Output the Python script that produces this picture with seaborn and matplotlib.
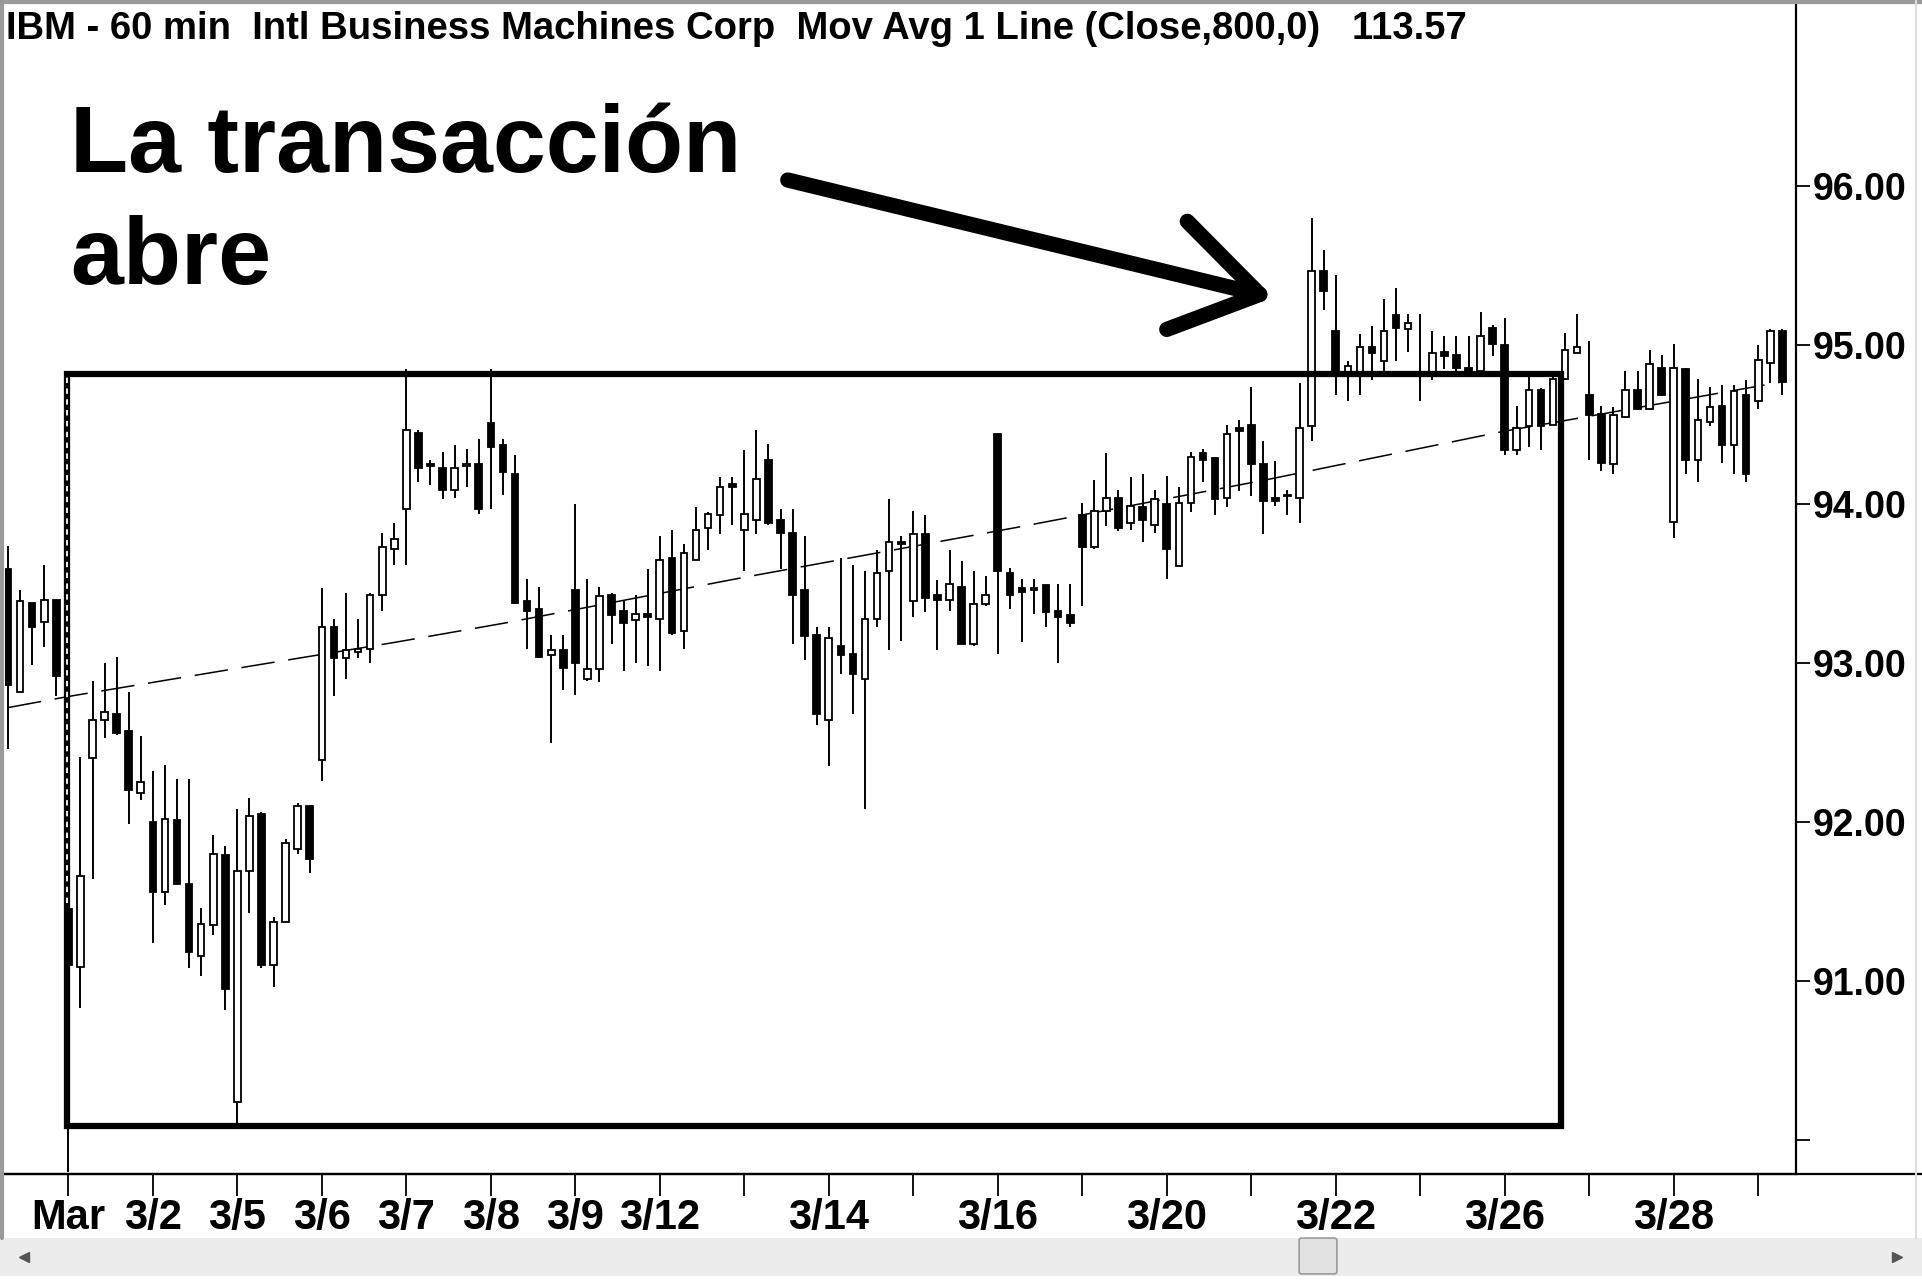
import numpy as np
import pandas as pd
import matplotlib
matplotlib.use("Agg")
import matplotlib.pyplot as plt
import seaborn as sns
from matplotlib.patches import Rectangle, FancyBboxPatch
from matplotlib.lines import Line2D

# 60 min bars: last 5 bars of Feb 29, then 7 bars a day, 3 bars of 3/29
opens = [93.59, 92.82, 93.38, 93.26, 93.40,
         91.45, 91.09, 92.40, 92.64, 92.68, 92.57, 92.18,
         92.00, 91.56, 92.01, 91.61, 91.16, 91.35, 91.79,
         90.24, 91.69, 92.05, 91.10, 91.37, 91.83, 92.10,
         92.39, 93.23, 93.03, 93.07, 93.09, 93.43, 93.72,
         93.97, 94.45, 94.25, 94.23, 94.09, 94.24, 94.25,
         94.51, 94.37, 94.19, 93.39, 93.34, 93.05, 93.08,
         93.46, 92.90, 92.96, 93.43, 93.33, 93.27, 93.31,
         93.28, 93.66, 93.20, 93.65, 93.85, 93.93, 94.13,
         93.84, 93.90, 94.28, 93.90, 93.82, 93.46, 93.18,
         92.64, 93.11, 93.06, 92.90, 93.28, 93.58, 93.76,
         93.39, 93.81, 93.43, 93.40, 93.48, 93.12, 93.37,
         94.44, 93.57, 93.47, 93.46, 93.49, 93.33, 93.30,
         93.93, 93.73, 93.96, 94.04, 93.88, 93.98, 93.87,
         94.00, 93.61, 94.01, 94.32, 94.29, 94.04, 94.48,
         94.50, 94.25, 94.04, 94.06, 94.04, 94.49, 95.47,
         95.09, 94.81, 94.82, 94.99, 94.90, 95.19, 95.10,
         94.83, 94.81, 94.96, 94.94, 94.86, 94.84, 95.11,
         95.00, 94.34, 94.49, 94.72, 94.50, 94.79, 94.95,
         94.69, 94.57, 94.25, 94.55, 94.72, 94.60, 94.86,
         93.89, 94.85, 94.28, 94.52, 94.62, 94.37, 94.69,
         94.65, 94.89, 95.09]
highs = [93.74, 93.46, 93.38, 93.62, 93.40,
         92.80, 92.41, 92.89, 93.00, 93.04, 92.82, 92.54,
         92.32, 92.36, 92.27, 92.27, 91.46, 91.92, 91.85,
         92.08, 92.15, 92.06, 91.40, 91.89, 92.12, 92.10,
         93.47, 93.28, 93.44, 93.28, 93.44, 93.82, 93.88,
         94.85, 94.47, 94.28, 94.33, 94.37, 94.35, 94.41,
         94.85, 94.41, 94.31, 93.53, 93.48, 93.18, 93.18,
         94.00, 93.53, 93.48, 93.44, 93.39, 93.43, 93.59,
         93.80, 93.84, 93.75, 93.98, 93.95, 94.17, 94.17,
         94.34, 94.47, 94.38, 93.97, 93.97, 93.80, 93.23,
         93.23, 93.66, 93.62, 93.58, 93.71, 94.03, 93.80,
         93.96, 93.93, 93.52, 93.71, 93.64, 93.58, 93.55,
         94.44, 93.60, 93.53, 93.53, 93.49, 93.50, 93.50,
         94.01, 94.15, 94.32, 94.09, 94.17, 94.19, 94.09,
         94.18, 94.11, 94.33, 94.35, 94.30, 94.50, 94.53,
         94.74, 94.40, 94.27, 94.09, 94.76, 95.80, 95.60,
         95.44, 94.90, 95.07, 95.12, 95.29, 95.36, 95.20,
         95.20, 95.09, 95.06, 95.06, 95.06, 95.21, 95.13,
         95.17, 94.62, 94.81, 94.73, 94.80, 95.08, 95.20,
         95.03, 94.62, 94.61, 94.84, 94.84, 94.97, 94.94,
         95.01, 94.86, 94.79, 94.74, 94.75, 94.75, 94.78,
         95.00, 95.10, 95.10]
lows = [92.46, 92.82, 92.99, 93.10, 92.79,
        89.80, 90.83, 91.64, 92.53, 92.55, 91.99, 92.14,
        91.24, 91.48, 91.61, 91.08, 91.03, 91.29, 90.82,
        90.10, 91.43, 91.08, 90.96, 91.37, 91.80, 91.68,
        92.26, 92.79, 92.90, 93.03, 93.00, 93.33, 93.62,
        93.62, 94.14, 94.12, 94.03, 94.04, 94.11, 93.94,
        93.97, 94.06, 93.37, 93.09, 93.03, 92.50, 92.83,
        92.80, 92.89, 92.88, 93.12, 92.95, 93.00, 92.98,
        92.95, 93.18, 93.09, 93.65, 93.71, 93.81, 93.87,
        93.58, 93.81, 93.87, 93.59, 93.12, 93.02, 92.61,
        92.35, 92.93, 92.68, 92.08, 93.23, 93.08, 93.14,
        93.29, 93.32, 93.08, 93.33, 93.12, 93.11, 93.36,
        93.06, 93.34, 93.13, 93.31, 93.23, 93.00, 93.23,
        93.36, 93.72, 93.86, 93.83, 93.84, 93.76, 93.82,
        93.53, 93.61, 93.95, 94.14, 93.93, 93.98, 94.08,
        94.05, 93.81, 93.99, 93.93, 93.88, 94.40, 95.22,
        94.69, 94.65, 94.69, 94.78, 94.83, 94.90, 94.96,
        94.65, 94.78, 94.85, 94.82, 94.81, 94.83, 94.93,
        94.31, 94.31, 94.36, 94.34, 94.50, 94.78, 94.95,
        94.28, 94.21, 94.19, 94.54, 94.59, 94.59, 94.68,
        93.79, 94.19, 94.14, 94.49, 94.26, 94.19, 94.14,
        94.60, 94.76, 94.69]
closes = [92.86, 93.39, 93.23, 93.40, 92.92,
          91.10, 91.66, 92.64, 92.69, 92.56, 92.20, 92.25,
          91.56, 92.02, 91.61, 91.18, 91.36, 91.80, 90.95,
          91.69, 92.04, 91.10, 91.37, 91.87, 92.10, 91.77,
          93.23, 93.03, 93.08, 93.09, 93.43, 93.73, 93.78,
          94.47, 94.23, 94.24, 94.09, 94.23, 94.25, 93.97,
          94.36, 94.20, 93.38, 93.33, 93.04, 93.08, 92.97,
          93.00, 92.96, 93.42, 93.30, 93.25, 93.31, 93.29,
          93.65, 93.19, 93.69, 93.84, 93.94, 94.11, 94.11,
          93.94, 94.16, 93.88, 93.82, 93.43, 93.17, 92.68,
          93.16, 93.05, 92.93, 93.28, 93.57, 93.76, 93.75,
          93.81, 93.41, 93.40, 93.50, 93.12, 93.37, 93.43,
          93.58, 93.43, 93.45, 93.47, 93.32, 93.29, 93.25,
          93.73, 93.96, 94.04, 93.85, 93.99, 93.90, 94.03,
          93.72, 94.01, 94.30, 94.28, 94.03, 94.44, 94.46,
          94.25, 94.02, 94.02, 94.05, 94.48, 95.47, 95.34,
          94.82, 94.87, 94.99, 94.95, 95.09, 95.11, 95.14,
          94.82, 94.95, 94.93, 94.86, 94.82, 95.06, 95.01,
          94.34, 94.48, 94.72, 94.49, 94.79, 94.97, 94.99,
          94.56, 94.26, 94.56, 94.72, 94.60, 94.88, 94.69,
          94.86, 94.28, 94.53, 94.61, 94.37, 94.71, 94.19,
          94.91, 95.09, 94.77]

# date labels under the first bar of each day (blank = unlabeled tick)
day_labels = ["Mar", "3/2", "3/5", "3/6", "3/7", "3/8", "3/9", "3/12", "", "3/14", "",
              "3/16", "", "3/20", "", "3/22", "", "3/26", "", "3/28", ""]

# 800-bar moving average, read at a few bars
ma_bar = [0, 5, 20, 32, 41, 61, 84, 104, 124, 130, 147]
ma_value = [92.72, 92.79, 92.98, 93.13, 93.25, 93.54, 93.86, 94.15, 94.46, 94.54, 94.77]

price_ticks = [90, 91, 92, 93, 94, 95, 96]
price_labels = ["", "91.00", "92.00", "93.00", "94.00", "95.00", "96.00"]

# hand drawn range box and arrow (bar index, price)
box_left, box_right = 4.92, 128.7
box_bottom, box_top = 90.09, 94.82
arrow_start = (64.6, 96.04)
arrow_tip = (103.7, 95.32)
arrow_head_a = (97.7, 95.78)
arrow_head_b = (96.0, 95.10)

title = "IBM - 60 min  Intl Business Machines Corp  Mov Avg 1 Line (Close,800,0)   113.57"

sns.set_theme(style="white")
plt.rcParams['font.family'] = ['Liberation Sans', 'DejaVu Sans']
plt.rcParams['text.color'] = 'black'

df = pd.DataFrame({'bar': np.arange(len(opens)), 'open': opens, 'high': highs,
                   'low': lows, 'close': closes})
df['up'] = df['close'] >= df['open']

W, H = 1922, 1281
fig = plt.figure(figsize=(W / 100, H / 100), dpi=100)
fig.patch.set_facecolor('white')
ax = fig.add_axes([5 / W, 1 - 1174 / H, (1796 - 5) / W, (1174 - 3) / H])
ax.set_facecolor('white')

# moving average
sns.lineplot(x=ma_bar, y=ma_value, ax=ax, color='black', linewidth=1.1, zorder=1)
ax.lines[-1].set_dashes([22, 9])

# candles
ax.vlines(df['bar'], df['low'], df['high'], color='black', linewidth=1.4, zorder=2)
body_low = df[['open', 'close']].min(axis=1)
body_h = (df['close'] - df['open']).abs()
ax.bar(df['bar'], body_h, bottom=body_low, width=0.55,
       color=np.where(df['up'], 'white', 'black'), edgecolor='black',
       linewidth=1.3, zorder=3)

# range box
ax.add_patch(Rectangle((box_left, box_bottom), box_right - box_left, box_top - box_bottom,
                       fill=False, edgecolor='black', linewidth=4.5, zorder=4))
ax.plot([box_left, box_left], [box_bottom + 1.4, box_top], color='white',
        linewidth=1.3, dashes=[3, 3], zorder=5)

# arrow
for a, b in [(arrow_start, arrow_tip), (arrow_head_a, arrow_tip), (arrow_head_b, arrow_tip)]:
    ax.plot([a[0], b[0]], [a[1], b[1]], color='black', linewidth=11,
            solid_capstyle='round', zorder=6)

ax.set_xlim(-0.25, 148.13)
ax.set_ylim(89.785, 97.154)

ax.set_xticks(np.arange(5, 5 + 7 * len(day_labels), 7))
ax.set_xticklabels(day_labels, fontsize=30, fontweight='bold', color='black')
ax.yaxis.tick_right()
ax.set_yticks(price_ticks)
ax.set_yticklabels(price_labels, fontsize=27, fontweight='bold', color='black')
ax.tick_params(axis='x', direction='out', length=16, width=1.3, pad=1, colors='black',
               bottom=True)
ax.tick_params(axis='y', direction='out', length=10, width=1.3, pad=2, colors='black',
               right=True, left=False)
for side in ['left', 'top']:
    ax.spines[side].set_visible(False)
for side in ['right', 'bottom']:
    ax.spines[side].set_visible(True)
    ax.spines[side].set_color('black')
    ax.spines[side].set_linewidth(1.6)
ax.grid(False)

# title and annotation text
fig.text(6 / W, 1 - 29 / H, title, fontsize=27.5, fontweight='bold', va='center',
         ha='left', color='black')
fig.text(70 / W, 1 - 172 / H, "La transacción", fontsize=68.5, fontweight='bold',
         va='baseline', ha='left', color='black')
fig.text(70 / W, 1 - 284 / H, "abre", fontsize=68.5, fontweight='bold',
         va='baseline', ha='left', color='black')

# chart frame pieces outside the axes
axis_y = 1 - 1174 / H
fig.add_artist(Line2D([0, 1], [axis_y, axis_y], color='black', linewidth=1.6))
fig.add_artist(Line2D([0, 1], [1 - 1.5 / H, 1 - 1.5 / H], color='#9a9a9a', linewidth=3))
fig.add_artist(Line2D([2 / W, 2 / W], [1 - 1238 / H, 1], color='#9a9a9a', linewidth=3))
fig.add_artist(Line2D([1916 / W, 1916 / W], [1 - 1238 / H, 1], color='#dcdcdc', linewidth=1.5))

# scrollbar
fig.add_artist(Rectangle((0, 1 - 1276 / H), 1, 38 / H, transform=fig.transFigure,
                         facecolor='#ececec', edgecolor='none'))
fig.add_artist(FancyBboxPatch((1302 / W, 1 - 1272 / H), 32 / W, 32 / H,
                              boxstyle='round,pad=0.0015', transform=fig.transFigure,
                              facecolor='#e2e2e2', edgecolor='#9a9a9a', linewidth=1.2))
fig.add_artist(Line2D([24 / W], [1 - 1257 / H], marker='<', markersize=7, color='#555555'))
fig.add_artist(Line2D([1897 / W], [1 - 1257 / H], marker='>', markersize=7, color='#555555'))

fig.savefig('out.png', dpi=100)
